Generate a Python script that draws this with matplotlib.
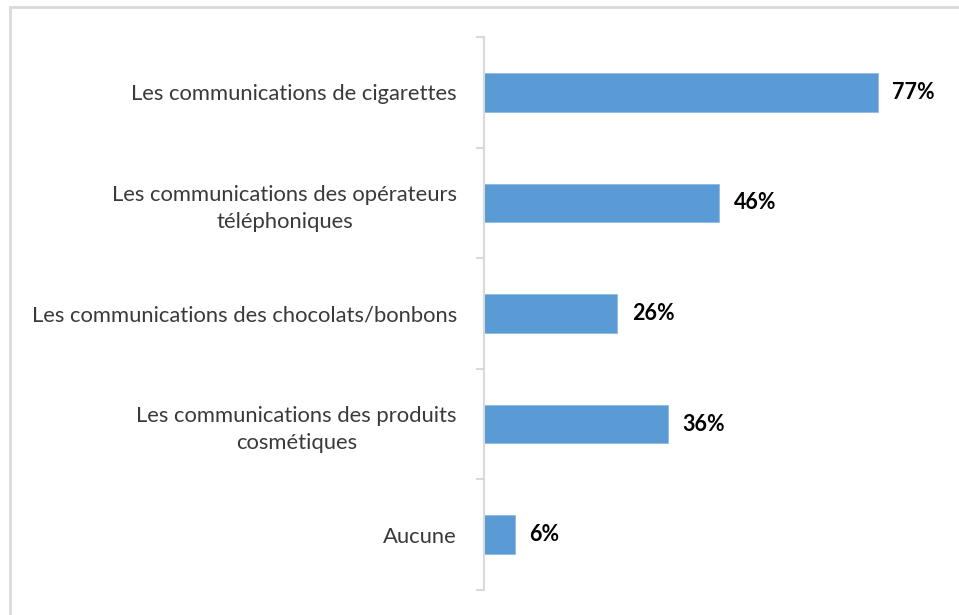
import matplotlib.pyplot as plt
from matplotlib.lines import Line2D

categories = [
    'Les communications de cigarettes',
    'Les communications des opérateurs\ntéléphoniques',
    'Les communications des chocolats/bonbons',
    'Les communications des produits\ncosmétiques',
    'Aucune',
]
values = [77, 46, 26, 36, 6]

plt.rcParams['font.family'] = ['Lato', 'DejaVu Sans']

W, H = 959, 615
fig = plt.figure(figsize=(W / 100, H / 100), dpi=100)

# axes placed in pixel terms: left axis at x=484, from y=37 down to y=590
left, right = 484, 944
top, bottom = 37, 590
ax = fig.add_axes([left / W, 1 - bottom / H, (right - left) / W, (bottom - top) / H])

ypos = list(range(len(categories)))
ax.barh(ypos, values, height=0.35, color='#5B9BD5', edgecolor='#8DB9E2', linewidth=0.6)

for y, v in zip(ypos, values):
    ax.text(v + 2.9, y, f'{v}%', va='center', ha='left', fontsize=15.5,
            fontweight='bold', color='#000000')

ax.set_xlim(0, 90)
ax.set_ylim(len(categories) - 0.5, -0.5)

# ticks sit on the boundaries between categories
ax.set_yticks([i - 0.5 for i in range(len(categories) + 1)], minor=False)
ax.set_yticklabels([])
ax.set_yticks(ypos, minor=True)
ax.set_yticklabels(categories, minor=True, multialignment='center', fontsize=15.8,
                   color='#3A3A3A', linespacing=1.45)
ax.tick_params(axis='y', which='major', length=6, width=1.5, color='#D9D9D9')
ax.tick_params(axis='y', which='minor', length=0, pad=19.5)
ax.set_xticks([])

for s in ['top', 'right', 'bottom']:
    ax.spines[s].set_visible(False)
ax.spines['left'].set_color('#D9D9D9')
ax.spines['left'].set_linewidth(1.5)

# light frame along the top and left edges
fig.add_artist(Line2D([10 / W, 1], [1 - 7 / H, 1 - 7 / H], color='#D9D9D9', linewidth=2,
                      transform=fig.transFigure))
fig.add_artist(Line2D([10 / W, 10 / W], [0, 1 - 7 / H], color='#D9D9D9', linewidth=2,
                      transform=fig.transFigure))

fig.savefig('out.png', dpi=100)
